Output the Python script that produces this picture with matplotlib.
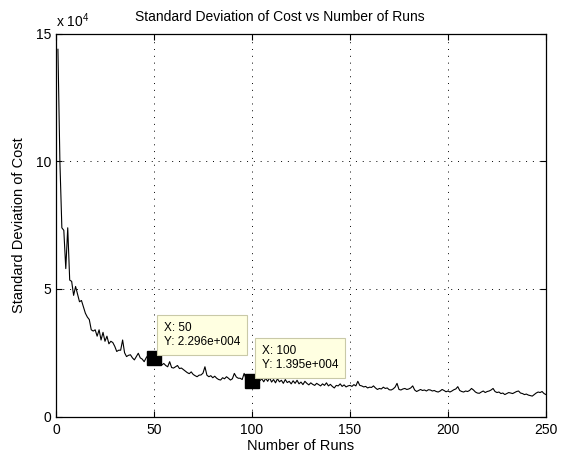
import numpy as np
import matplotlib
matplotlib.use('Agg')
import matplotlib.pyplot as plt

# standard deviation of cost (units of 1e4) for runs 1..250
runs = np.arange(1, 251)
std_cost = [
    14.4, 10.0, 7.4, 7.3, 5.8, 7.4, 5.35, 5.3, 4.75, 5.1,
    4.8, 4.5, 4.55, 4.3, 4.05, 3.9, 3.8, 3.4, 3.35, 3.4,
    3.15, 3.4, 3.0, 3.3, 2.95, 3.15, 2.85, 2.95, 2.9, 2.75,
    2.55, 2.6, 2.6, 3.0, 2.5, 2.35, 2.4, 2.42, 2.3, 2.22,
    2.35, 2.48, 2.3, 2.25, 2.15, 2.3, 2.41, 2.2, 2.25, 2.296,
    2.1, 2.05, 2.0, 2.02, 2.08, 2.0, 1.95, 2.15, 1.92, 1.9,
    1.95, 2.0, 1.88, 1.9, 1.84, 1.78, 1.72, 1.68, 1.75, 1.65,
    1.6, 1.56, 1.62, 1.63, 1.7, 1.95, 1.62, 1.56, 1.6, 1.52,
    1.58, 1.5, 1.45, 1.43, 1.52, 1.48, 1.56, 1.5, 1.43, 1.48,
    1.69, 1.55, 1.5, 1.5, 1.45, 1.69, 1.48, 1.52, 1.42, 1.395,
    1.5, 1.42, 1.55, 1.4, 1.48, 1.36, 1.5, 1.38, 1.52, 1.35,
    1.45, 1.32, 1.48, 1.36, 1.42, 1.3, 1.45, 1.33, 1.38, 1.28,
    1.4, 1.3, 1.42, 1.28, 1.35, 1.25, 1.38, 1.3, 1.24, 1.32,
    1.26, 1.22, 1.3, 1.25, 1.2, 1.28, 1.22, 1.32, 1.2, 1.26,
    1.18, 1.12, 1.22, 1.2, 1.28, 1.18, 1.24, 1.16, 1.2, 1.22,
    1.18, 1.25, 1.2, 1.38, 1.22, 1.2, 1.16, 1.18, 1.12, 1.15,
    1.14, 1.2, 1.12, 1.06, 1.1, 1.08, 1.15, 1.1, 1.12, 1.05,
    1.04, 1.08, 1.15, 1.3, 1.06, 1.04, 1.08, 1.1, 1.06, 1.08,
    1.12, 1.2, 1.04, 0.98, 1.02, 1.06, 1.02, 1.04, 1.0, 1.05,
    1.04, 1.0, 1.02, 0.98, 0.96, 1.0, 1.06, 1.02, 0.97, 1.0,
    0.96, 1.0, 1.05, 1.08, 1.17, 1.02, 0.98, 0.96, 1.0, 0.98,
    1.02, 1.1, 1.04, 0.96, 0.92, 0.91, 0.96, 1.0, 0.94, 0.98,
    1.0, 1.04, 1.1, 0.98, 0.94, 0.96, 0.9, 0.92, 0.86, 0.9,
    0.94, 0.92, 0.9, 0.94, 0.98, 1.0, 0.92, 0.9, 0.86, 0.88,
    0.84, 0.82, 0.8, 0.86, 0.92, 0.96, 0.94, 0.98, 0.9, 0.86,
]
tip_runs = [50, 100]

x_ticks = [0, 50, 100, 150, 200, 250]
y_ticks = [0, 5, 10, 15]

plt.rcParams['font.family'] = ['Liberation Sans', 'DejaVu Sans']
plt.rcParams['mathtext.default'] = 'regular'

fig = plt.figure(figsize=(5.62, 4.58), dpi=100)
ax = fig.add_axes([0.0996, 0.0906, 0.8719, 0.8352])

ax.plot(runs, std_cost, color='black', linewidth=0.8)

# data tips
for r in tip_runs:
    v = std_cost[r - 1]
    ax.plot(r, v, marker='s', color='black', markersize=10)
    ytxt = f"{v * 1e4:.3e}".replace('e+0', 'e+00')
    ax.annotate(f"X: {r}\nY: {ytxt}", xy=(r, v), xytext=(7, 7),
                textcoords='offset points', ha='left', va='bottom',
                fontsize=8.5, linespacing=1.25,
                bbox=dict(boxstyle='square,pad=0.55', fc='#FFFFE1', ec='#C9C9A8', lw=0.8))

ax.set_xlim(0, 250)
ax.set_ylim(0, 15)
ax.set_xticks(x_ticks)
ax.set_yticks(y_ticks)
ax.tick_params(direction='in', length=4, top=True, right=True, labelsize=10)
ax.tick_params(axis='x', pad=4.5)
ax.tick_params(axis='y', pad=3.5)
ax.grid(True, linestyle=(0, (1, 6)), color='black', linewidth=0.7)
for s in ax.spines.values():
    s.set_linewidth(0.9)

ax.text(0.0, 1.01, r'x 10$^4$', transform=ax.transAxes, ha='left', va='bottom', fontsize=10)
ax.set_title('Standard Deviation of Cost vs Number of Runs', fontsize=10, x=0.457, pad=9)
ax.set_xlabel('Number of Runs', fontsize=10.5, labelpad=1.5)
ax.set_ylabel('Standard Deviation of Cost', fontsize=10.5, labelpad=7)

fig.savefig('out.png', dpi=100)
